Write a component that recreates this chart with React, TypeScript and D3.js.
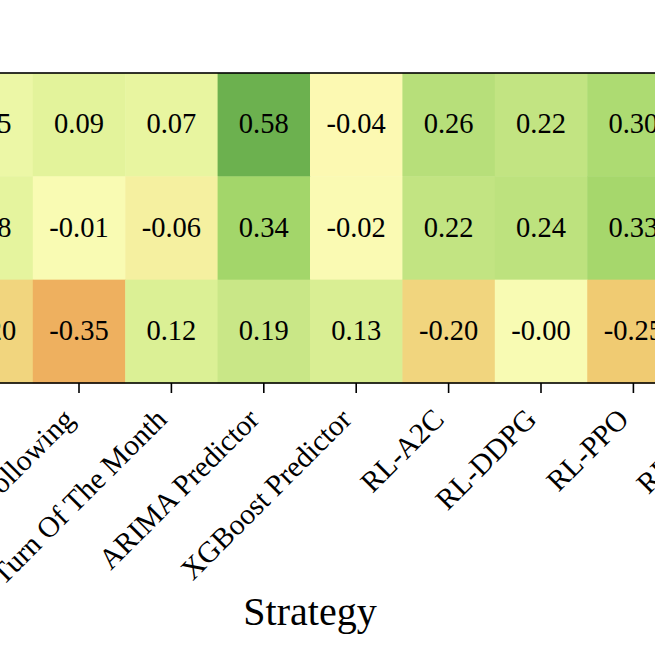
import { useEffect, useRef } from "react";
import * as d3 from "d3";

const strategies = [
  "Buy And Hold",
  "Mean Reversion",
  "Trend Following",
  "Turn Of The Month",
  "ARIMA Predictor",
  "XGBoost Predictor",
  "RL-A2C",
  "RL-DDPG",
  "RL-PPO",
  "RL-SAC",
];
const rowNames = ["Row 1", "Row 2", "Row 3"];

// null = cell lies outside the visible crop, value not readable
const row1 = [null, 0.05, 0.09, 0.07, 0.58, -0.04, 0.26, 0.22, 0.3, null];
const row2 = [null, 0.08, -0.01, -0.06, 0.34, -0.02, 0.22, 0.24, 0.33, null];
const row3 = [null, -0.2, -0.35, 0.12, 0.19, 0.13, -0.2, -0.0, -0.25, null];
const rows = [row1, row2, row3];

// colour stops
const colorStops = [-0.35, -0.25, -0.06, -0.04, 0, 0.09, 0.34, 0.58];
const colorRange = ["#eeb05f", "#f0cb72", "#f5f0a0", "#fcf9b2", "#f8fbb3", "#e3f39b", "#a3d66a", "#6cb14f"];

type Cell = { col: string; row: string; value: number };

export default function App() {
  const ref = useRef<SVGSVGElement>(null);

  useEffect(() => {
    if (!ref.current) return;
    const width = 655;
    const height = 655;
    const font = "'Liberation Serif', 'Times New Roman', serif";

    const svg = d3.select(ref.current);
    svg.selectAll("*").remove();
    svg.attr("width", width).attr("height", height);

    const x = d3.scaleBand().domain(strategies).range([-152, 772]);
    const y = d3.scaleBand().domain(rowNames).range([73, 383]);
    const color = d3
      .scaleLinear<string>()
      .domain(colorStops)
      .range(colorRange)
      .interpolate(d3.interpolateRgb)
      .clamp(true);

    const cells: Cell[] = [];
    rows.forEach((r, i) =>
      r.forEach((v, j) => {
        if (v !== null) cells.push({ col: strategies[j], row: rowNames[i], value: v });
      })
    );

    svg
      .append("g")
      .selectAll("rect")
      .data(cells)
      .enter()
      .append("rect")
      .attr("x", (d) => x(d.col) ?? 0)
      .attr("y", (d) => y(d.row) ?? 0)
      .attr("width", x.bandwidth() + 0.5)
      .attr("height", y.bandwidth() + 0.5)
      .attr("fill", (d) => color(d.value));

    svg
      .append("g")
      .selectAll("text")
      .data(cells)
      .enter()
      .append("text")
      .attr("x", (d) => (x(d.col) ?? 0) + x.bandwidth() / 2)
      .attr("y", (d) => (y(d.row) ?? 0) + y.bandwidth() / 2)
      .attr("dy", "0.3em")
      .attr("text-anchor", "middle")
      .attr("font-family", font)
      .attr("font-size", 28.5)
      .attr("fill", "#000")
      .text((d) => (d.value === 0 ? "-0.00" : d.value.toFixed(2)));

    // frame
    svg
      .append("rect")
      .attr("x", x.range()[0])
      .attr("y", 73)
      .attr("width", x.range()[1] - x.range()[0])
      .attr("height", 310)
      .attr("fill", "none")
      .attr("stroke", "#000")
      .attr("stroke-width", 1.6);

    // x axis
    const ax = svg
      .append("g")
      .attr("transform", `translate(0,383)`)
      .call(d3.axisBottom(x).tickSize(10).tickSizeOuter(0));
    ax.select(".domain").remove();
    ax.selectAll(".tick line").attr("stroke", "#000").attr("stroke-width", 1.6);
    ax.selectAll(".tick text")
      .attr("font-family", font)
      .attr("font-size", 29.5)
      .attr("fill", "#000")
      .attr("text-anchor", "end")
      .attr("dy", 0)
      .attr("y", 0)
      .attr("transform", "translate(-3,38) rotate(-45)");

    svg
      .append("text")
      .attr("x", (x.range()[0] + x.range()[1]) / 2)
      .attr("y", 625)
      .attr("text-anchor", "middle")
      .attr("font-family", font)
      .attr("font-size", 40)
      .attr("fill", "#000")
      .text("Strategy");
  }, []);

  return (
    <svg
      ref={ref}
      style={{ position: "absolute", top: 0, left: 0, background: "#fff" }}
    />
  );
}
